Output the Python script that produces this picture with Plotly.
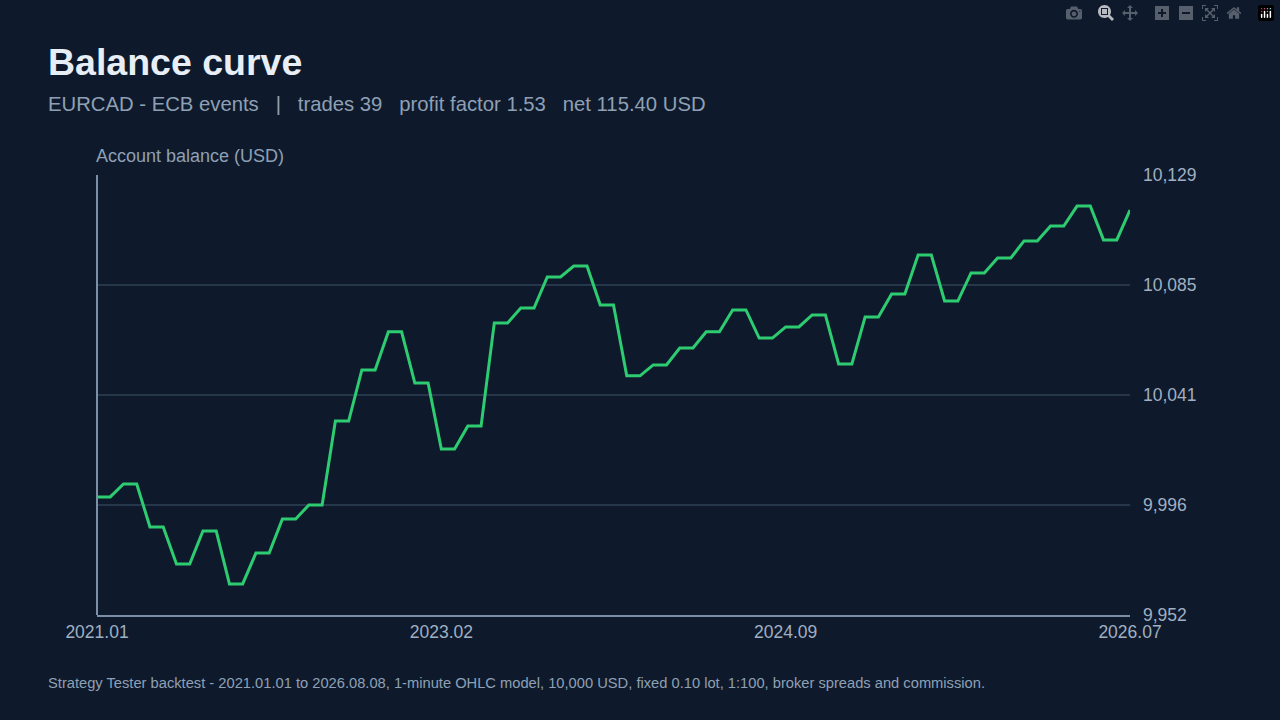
import plotly.graph_objects as go

balances = [9999.5, 10004.7, 9987.4, 9972.5, 9985.8, 9964.5, 9976.9, 9990.6, 9996.3, 10030.0,
            10050.6, 10065.9, 10045.3, 10018.8, 10028.0, 10069.5, 10075.5, 10088.0, 10092.4, 10076.7,
            10048.2, 10052.6, 10059.4, 10065.9, 10074.7, 10063.4, 10067.9, 10072.7, 10053.0, 10071.9,
            10081.1, 10096.8, 10078.3, 10089.6, 10095.6, 10102.5, 10108.5, 10116.5, 10102.9, 10114.9]
tick_pos = [0, 13, 26, 39]
tick_labels = ["2021.01", "2023.02", "2024.09", "2026.07"]
y_ticks = [9952, 9996.25, 10040.5, 10084.75, 10129]
y_labels = ["9,952", "9,996", "10,041", "10,085", "10,129"]

xs, ys = [], []
for i, b in enumerate(balances):
    xs.append(i); ys.append(b)
    if i < len(balances) - 1:
        xs.append(i + 0.5); ys.append(b)

bg = "#0e1a2c"
fig = go.Figure(go.Scatter(x=xs, y=ys, mode="lines",
                           line=dict(color="#2ecc71", width=3), hoverinfo="skip"))
fig.update_layout(
    width=1280, height=720, paper_bgcolor=bg, plot_bgcolor=bg,
    margin=dict(l=97, r=150, t=175, b=105), showlegend=False,
    font=dict(family="Liberation Sans, Arial, sans-serif", color="#8fa0b5"),
    xaxis=dict(range=[0, 39], tickvals=tick_pos, ticktext=tick_labels, showgrid=False,
               zeroline=False, showline=True, linecolor="#7d8fa6", linewidth=2,
               tickfont=dict(size=17.5, color="#a0afc2"), ticks="", ticklen=0),
    yaxis=dict(range=[9952, 10129], side="right", tickvals=y_ticks, ticktext=y_labels,
               gridcolor="#26364b", gridwidth=1.5, zeroline=False, showline=False,
               tickfont=dict(size=17.5, color="#a0afc2"), ticks="", ticklen=0,
               ticklabelstandoff=12),
    shapes=[dict(type="line", xref="paper", yref="paper", x0=0, x1=0, y0=0, y1=1,
                 line=dict(color="#7d8fa6", width=2))],
    annotations=[
        dict(text="<b>Balance curve</b>", showarrow=False, font=dict(size=37.5, color="#e8eef6")),
        dict(text="EURCAD - ECB events   |   trades 39   profit factor 1.53   net 115.40 USD",
             showarrow=False, font=dict(size=20.3, color="#8fa0b5")),
        dict(text="Account balance (USD)", showarrow=False, font=dict(size=18, color="#8fa0b5")),
        dict(text="Strategy Tester backtest - 2021.01.01 to 2026.08.08, 1-minute OHLC model, 10,000 USD, fixed 0.10 lot, 1:100, broker spreads and commission.",
             showarrow=False, font=dict(size=14.7, color="#8fa0b5")),
    ],
)
W, H = 1280, 720
L, R, T, B = 97, 150, 175, 105
pw, ph = W - L - R, H - T - B
def px(xp, yp):
    return (xp - L) / pw, (H - B - yp) / ph
pos = [(46, 62), (46, 104), (94, 156), (46, 683)]
anns = list(fig.layout.annotations)
for a, (xp, yp) in zip(anns, pos):
    a.x, a.y = px(xp, yp)
    a.xref = "paper"; a.yref = "paper"; a.xanchor = "left"; a.yanchor = "middle"
fig.layout.annotations = anns
fig.write_html("out.html")

with open("out.html", encoding="utf-8") as f:
    html = f.read()
html = html.replace("<body>", "<body style=\"margin:0;background:#0e1a2c\">", 1)
with open("out.html", "w", encoding="utf-8") as f:
    f.write(html)
